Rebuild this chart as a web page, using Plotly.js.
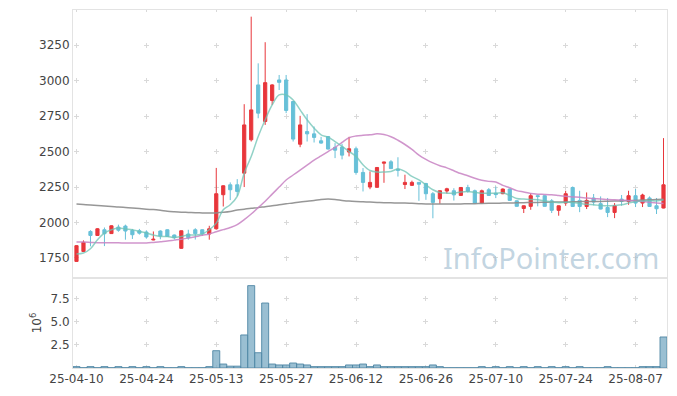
<!DOCTYPE html>
<html><head><meta charset="utf-8">
<script src="https://cdn.plot.ly/plotly-3.0.1.min.js"></script>
<style>
html,body{margin:0;padding:0;background:#fff;}
#chart{width:677px;height:396px;}
.subplot.xy path.xgrid{stroke-dasharray:5px,30.47px !important;stroke-dashoffset:2.77px;}
.subplot.xy2 path.xgrid{stroke-dasharray:5px,18px !important;stroke-dashoffset:4.5px;}
path.ygrid, path.y2grid{stroke-dasharray:5px,64.88px !important;stroke-dashoffset:68.89px;}
</style>
</head><body>
<div id="chart"></div>
<script>
const dates = ['25-04-10','25-04-11','25-04-14','25-04-15','25-04-16','25-04-17','25-04-18','25-04-21','25-04-22','25-04-23',
'25-04-24','25-04-25','25-04-28','25-04-29','25-04-30','25-05-02','25-05-07','25-05-08','25-05-09','25-05-12',
'25-05-13','25-05-14','25-05-15','25-05-16','25-05-19','25-05-20','25-05-21','25-05-22','25-05-23','25-05-26',
'25-05-27','25-05-28','25-05-29','25-05-30','25-06-02','25-06-04','25-06-05','25-06-09','25-06-10','25-06-11',
'25-06-12','25-06-13','25-06-16','25-06-17','25-06-18','25-06-19','25-06-20','25-06-23','25-06-24','25-06-25',
'25-06-26','25-06-27','25-06-30','25-07-01','25-07-02','25-07-03','25-07-04','25-07-07','25-07-08','25-07-09',
'25-07-10','25-07-11','25-07-14','25-07-15','25-07-16','25-07-17','25-07-18','25-07-21','25-07-22','25-07-23',
'25-07-24','25-07-25','25-07-28','25-07-29','25-07-30','25-07-31','25-08-01','25-08-04','25-08-05','25-08-06',
'25-08-07','25-08-08','25-08-11','25-08-12','25-08-13'];

const open = [1726,1796,1937,1909,1949,1922,1968,1975,1945,1942,
1933,1877,1940,1949,1912,1818,1919,1949,1949,1919,
1956,2196,2266,2266,2348,2583,2970,2712,2860,3005,
3005,2853,2552,2641,2625,2576,2606,2530,2532,2497,
2520,2353,2250,2248,2418,2428,2377,2268,2262,2283,
2275,2203,2168,2222,2224,2191,2247,2224,2137,2231,
2207,2203,2236,2153,2099,2114,2189,2189,2153,2086,
2137,2247,2156,2113,2173,2133,2106,2071,2165,2149,
2189,2137,2173,2118,2102];
const high = [1840,1874,1946,1960,1965,1980,1985,1985,1955,1955,
1945,1937,1945,1952,1915,1944,1949,1960,1952,1977,
2385,2262,2283,2306,2834,3451,3122,3271,2975,3040,
3040,2855,2752,2764,2677,2604,2610,2560,2555,2604,
2535,2384,2360,2390,2428,2440,2460,2337,2295,2285,
2280,2215,2226,2245,2242,2250,2266,2232,2232,2243,
2254,2240,2240,2155,2120,2207,2192,2192,2165,2120,
2224,2254,2224,2212,2201,2184,2173,2137,2194,2224,
2236,2203,2184,2173,2595];
const low = [1724,1793,1832,1905,1834,1920,1935,1879,1884,1915,
1886,1875,1882,1898,1880,1815,1879,1880,1905,1879,
1950,2113,2158,2186,2250,2571,2735,2688,2829,2934,
2771,2571,2531,2571,2564,2555,2515,2454,2445,2466,
2337,2219,2235,2245,2280,2378,2324,2236,2258,2153,
2160,2030,2132,2205,2155,2188,2210,2135,2135,2188,
2172,2200,2154,2112,2067,2090,2114,2112,2067,2048,
2118,2110,2073,2095,2121,2093,2038,2031,2118,2125,
2109,2109,2110,2060,2100];
const close = [1837,1860,1909,1956,1921,1977,1946,1940,1914,1925,
1898,1882,1905,1902,1893,1942,1893,1921,1920,1956,
2203,2259,2231,2219,2688,2794,2771,2986,2970,2988,
2790,2588,2688,2625,2600,2560,2518,2510,2475,2520,
2353,2283,2283,2388,2426,2380,2368,2283,2283,2270,
2203,2142,2224,2238,2195,2247,2220,2137,2224,2191,
2197,2236,2156,2114,2118,2189,2183,2114,2086,2118,
2203,2113,2113,2156,2144,2095,2071,2118,2149,2189,
2137,2194,2113,2097,2266];

const ma5 = [1778,1785,1815,1879,1926,1949,1961,1954,1949,1937,
1926,1912,1902,1902,1895,1902,1912,1912,1919,1949,
1996,2090,2125,2184,2348,2465,2606,2724,2829,2900,
2900,2864,2794,2724,2665,2618,2602,2571,2536,2501,
2466,2407,2367,2356,2356,2360,2378,2360,2325,2301,
2266,2231,2212,2207,2207,2215,2219,2212,2207,2207,
2207,2210,2191,2170,2165,2162,2160,2152,2145,2140,
2142,2142,2135,2128,2125,2120,2118,2120,2125,2137,
2149,2152,2156,2152,2158];
const ma20 = [1863,1862,1860,1858,1857,1857,1857,1856,1856,1856,
1856,1860,1865,1870,1876,1882,1890,1900,1910,1919,
1935,1950,1965,1985,2020,2060,2105,2150,2200,2250,
2300,2335,2370,2405,2440,2470,2500,2530,2565,2598,
2610,2615,2618,2625,2620,2605,2580,2550,2515,2475,
2445,2420,2400,2385,2365,2345,2330,2312,2298,2290,
2285,2262,2245,2225,2215,2205,2200,2198,2195,2190,
2185,2180,2178,2172,2168,2166,2162,2160,2158,2156,
2152,2148,2143,2138,2134];
const ma120 = [2130,2127,2124,2120,2117,2113,2110,2106,2102,2098,
2094,2091,2086,2080,2076,2073,2071,2069,2068,2067,
2068,2072,2078,2088,2094,2100,2105,2112,2118,2125,
2132,2138,2145,2150,2155,2162,2165,2162,2156,2151,
2148,2146,2144,2142,2140,2139,2138,2137,2135,2133,
2131,2130,2130,2130,2130,2131,2132,2133,2134,2135,
2136,2137,2138,2139,2140,2141,2142,2143,2144,2144,
2145,2146,2147,2148,2148,2149,2150,2151,2152,2154,
2156,2158,2160,2162,2164];

const volume = [150000,30000,150000,30000,150000,30000,150000,30000,150000,30000,
150000,30000,150000,30000,30000,150000,30000,30000,30000,150000,
1880000,430000,200000,200000,3590000,8950000,1660000,7060000,430000,330000,
330000,540000,430000,330000,150000,150000,150000,150000,150000,330000,
330000,430000,150000,330000,150000,150000,150000,150000,150000,150000,
150000,330000,150000,30000,30000,30000,30000,30000,150000,30000,
150000,30000,150000,30000,150000,30000,150000,30000,150000,30000,
150000,30000,150000,30000,30000,30000,150000,30000,30000,30000,
30000,150000,150000,150000,3370000];

const priceTicks = [1750,2000,2250,2500,2750,3000,3250];
const volTicks = [2500000,5000000,7500000];
const volTickText = ['2.5','5.0','7.5'];
const xTicks = dates.filter((d,i)=>i%10===0);

const RED = '#e8363b', CYAN = '#67c0d8';
const traces = [
  {type:'candlestick', x:dates, open:open, high:high, low:low, close:close,
   xaxis:'x', yaxis:'y',
   increasing:{line:{color:RED,width:1}, fillcolor:RED},
   decreasing:{line:{color:CYAN,width:1}, fillcolor:CYAN},
   whiskerwidth:0, hoverinfo:'skip', showlegend:false},
  {type:'scatter', mode:'lines', x:dates, y:ma120, xaxis:'x', yaxis:'y',
   line:{color:'rgba(140,140,140,0.9)', width:1.5, shape:'spline'}, showlegend:false, hoverinfo:'skip'},
  {type:'scatter', mode:'lines', x:dates, y:ma20, xaxis:'x', yaxis:'y',
   line:{color:'rgba(200,130,195,0.85)', width:1.5, shape:'spline'}, showlegend:false, hoverinfo:'skip'},
  {type:'scatter', mode:'lines', x:dates, y:ma5, xaxis:'x', yaxis:'y',
   line:{color:'rgba(110,195,180,0.75)', width:1.5, shape:'spline'}, showlegend:false, hoverinfo:'skip'},
  {type:'bar', x:dates, y:volume, xaxis:'x', yaxis:'y2',
   marker:{color:'rgba(120,170,195,0.75)', line:{color:'rgba(80,135,165,0.9)', width:1}},
   showlegend:false, hoverinfo:'skip'}
];

const gridC = '#d9d9d9', lineC = '#e3e3e3';
const layout = {
  width:677, height:396,
  margin:{l:73, r:10, t:10, b:28},
  paper_bgcolor:'#fff', plot_bgcolor:'#fff',
  font:{family:'DejaVu Sans, sans-serif', size:12, color:'#444'},
  bargap:0, boxgap:0.35,
  showlegend:false,
  xaxis:{type:'category', anchor:'y2', range:[-0.5, dates.length-0.5],
    tickmode:'array', tickvals:xTicks, ticktext:xTicks,
    showgrid:true, gridcolor:gridC, gridwidth:1,
    showline:true, linecolor:lineC, linewidth:1, mirror:'all',
    ticks:'', rangeslider:{visible:false}, fixedrange:true,
    tickfont:{size:12, color:'#444'}},
  yaxis:{domain:[0.2514,1], range:[1609,3498], tickmode:'array', tickvals:priceTicks,
    showgrid:true, gridcolor:gridC, gridwidth:1, zeroline:false,
    showline:true, linecolor:lineC, linewidth:1, mirror:true, ticks:'',
    tickfont:{size:12, color:'#444'}},
  yaxis2:{domain:[0,0.2514], range:[0,9780000], tickmode:'array', tickvals:volTicks, ticktext:volTickText,
    showgrid:true, gridcolor:gridC, gridwidth:1, zeroline:false,
    showline:true, linecolor:lineC, linewidth:1, mirror:true, ticks:'',
    title:{text:'10<sup>6</sup>', font:{size:12, color:'#444'}, standoff:6},
    tickfont:{size:12, color:'#444'}},
  annotations:[{text:'InfoPointer.com', xref:'paper', yref:'paper', x:0.805, y:0.31,
    xanchor:'center', yanchor:'middle', showarrow:false,
    font:{family:'Noto Sans, sans-serif', size:29, color:'rgba(165,192,210,0.68)'}}]
};

Plotly.newPlot('chart', traces, layout, {staticPlot:true, displayModeBar:false});
</script>
</body></html>
